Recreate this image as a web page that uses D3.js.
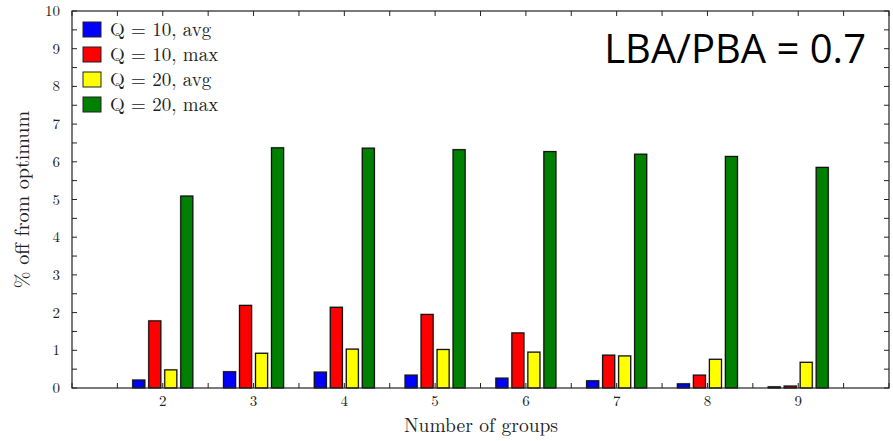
<!DOCTYPE html>
<html>
<head>
<meta charset="utf-8">
<script src="https://cdn.jsdelivr.net/npm/d3@7"></script>
<style>
  html, body { margin: 0; padding: 0; background: #fff; }
  svg { display: block; }
</style>
</head>
<body>
<div id="chart"></div>
<script>
// Data
const groups = [2, 3, 4, 5, 6, 7, 8, 9];
const seriesNames = ["Q = 10, avg", "Q = 10, max", "Q = 20, avg", "Q = 20, max"];
const seriesColors = ["#0000ff", "#ff0000", "#ffff00", "#008000"];
const q10avg = [0.21, 0.43, 0.42, 0.34, 0.26, 0.19, 0.11, 0.03];
const q10max = [1.78, 2.19, 2.14, 1.95, 1.46, 0.87, 0.34, 0.05];
const q20avg = [0.48, 0.92, 1.03, 1.02, 0.95, 0.85, 0.76, 0.68];
const q20max = [5.09, 6.37, 6.36, 6.32, 6.27, 6.20, 6.14, 5.85];
const series = [q10avg, q10max, q20avg, q20max];
const yTicks = [0, 1, 2, 3, 4, 5, 6, 7, 8, 9, 10];

const W = 893, H = 441, ML = 72, MR = 4, MT = 11, MB = 53;
const SERIF = "'Latin Modern Roman','CMU Serif','DejaVu Serif',serif";

const x = d3.scaleLinear().domain([1, 10]).range([ML, W - MR]);
const y = d3.scaleLinear().domain([0, 10]).range([H - MB, MT]);

const svg = d3.select("#chart").append("svg")
  .attr("width", W).attr("height", H)
  .attr("viewBox", `0 0 ${W} ${H}`);

// bars: 4 per group, 12 wide, 16 step
const BW = 12, STEP = 16;
series.forEach((vals, s) => {
  const off = (s - 1.5) * STEP - BW / 2;
  // soft grey shadow
  svg.append("g").selectAll("rect").data(vals).join("rect")
    .attr("x", (d, i) => x(groups[i]) + off - 1)
    .attr("y", d => y(d) - 1)
    .attr("width", BW + 2)
    .attr("height", d => y(0) - y(d) + 1)
    .attr("fill", "#bdbdbd");
  svg.append("g").selectAll("rect").data(vals).join("rect")
    .attr("x", (d, i) => x(groups[i]) + off)
    .attr("y", d => y(d))
    .attr("width", BW)
    .attr("height", d => y(0) - y(d))
    .attr("fill", seriesColors[s])
    .attr("stroke", "#111")
    .attr("stroke-width", 1.2);
});

// frame
svg.append("rect")
  .attr("x", ML).attr("y", MT)
  .attr("width", W - MR - ML).attr("height", H - MB - MT)
  .attr("fill", "none").attr("stroke", "#222").attr("stroke-width", 1.2);

// ticks
const halfX = d3.range(1, 10.01, 0.5);
halfX.forEach(v => {
  svg.append("line").attr("x1", x(v)).attr("x2", x(v))
    .attr("y1", y(0)).attr("y2", y(0) - 5).attr("stroke", "#222");
  svg.append("line").attr("x1", x(v)).attr("x2", x(v))
    .attr("y1", y(10)).attr("y2", y(10) + 5).attr("stroke", "#222");
});
const halfY = d3.range(0, 10.01, 0.5);
halfY.forEach(v => {
  svg.append("line").attr("x1", x(1)).attr("x2", x(1) + 5)
    .attr("y1", y(v)).attr("y2", y(v)).attr("stroke", "#222");
  svg.append("line").attr("x1", x(10)).attr("x2", x(10) - 5)
    .attr("y1", y(v)).attr("y2", y(v)).attr("stroke", "#222");
});

// tick labels
svg.append("g").selectAll("text").data(yTicks).join("text")
  .attr("x", ML - 12).attr("y", d => y(d) + 5)
  .attr("text-anchor", "end")
  .attr("style", `font:15px ${SERIF};fill:#222`)
  .text(d => d);
svg.append("g").selectAll("text").data(groups).join("text")
  .attr("x", d => x(d)).attr("y", y(0) + 18)
  .attr("text-anchor", "middle")
  .attr("style", `font:15px ${SERIF};fill:#222`)
  .text(d => d);

// axis titles
svg.append("text")
  .attr("x", 481).attr("y", 432)
  .attr("text-anchor", "middle")
  .attr("style", `font:19.5px ${SERIF};fill:#222`)
  .text("Number of groups");
svg.append("text")
  .attr("transform", `translate(29,${(MT + H - MB) / 2}) rotate(-90)`)
  .attr("text-anchor", "middle")
  .attr("style", `font:20px ${SERIF};fill:#222`)
  .text("% off from optimum");

// legend
const leg = svg.append("g");
seriesNames.forEach((n, i) => {
  const ly = 22 + i * 25;
  leg.append("rect").attr("x", 83).attr("y", ly)
    .attr("width", 18).attr("height", 15)
    .attr("fill", seriesColors[i]).attr("stroke", "#222").attr("stroke-width", 1);
  leg.append("text").attr("x", 110).attr("y", ly + 14)
    .attr("style", `font:19px ${SERIF};fill:#222`)
    .text(n);
});

// annotation
svg.append("text")
  .attr("x", 866).attr("y", 63)
  .attr("text-anchor", "end")
  .attr("style", "font:40px 'Open Sans','Liberation Sans',sans-serif;fill:#000")
  .text("LBA/PBA = 0.7");
</script>
</body>
</html>
